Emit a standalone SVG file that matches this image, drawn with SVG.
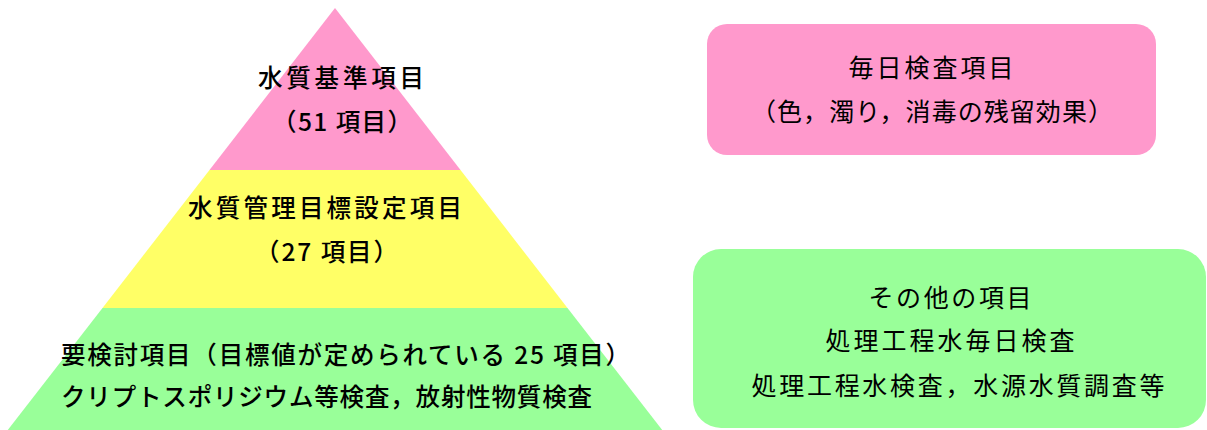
<svg xmlns="http://www.w3.org/2000/svg" width="1207" height="430" viewBox="0 0 1207 430">
<style>
text{font-family:"Noto Sans CJK JP","Noto Sans CJK SC",sans-serif;fill:#000}
.p{font-size:24.5px;font-weight:500}
.b{font-size:25px;font-weight:400}
</style>
<rect width="1207" height="430" fill="#fff"/>
<g id="tier1">
<polygon points="335,8 460.5,170 209.5,170" fill="#FF99CC"/>
<text class="p" x="258" y="87" textLength="166" lengthAdjust="spacing">水質基準項目</text>
<text class="p" x="272" y="130.5" textLength="140" lengthAdjust="spacing">（51 項目）</text>
</g>
<g id="tier2">
<polygon points="209.5,170 460.5,170 567.5,308 102.5,308" fill="#FFFF66"/>
<text class="p" x="188" y="217" textLength="274" lengthAdjust="spacing">水質管理目標設定項目</text>
<text class="p" x="255" y="260.5" textLength="143" lengthAdjust="spacing">（27 項目）</text>
</g>
<g id="tier3">
<polygon points="102.5,308 567.5,308 663,431 7,431" fill="#99FF99"/>
<text class="p" x="61" y="363.5" textLength="569" lengthAdjust="spacing">要検討項目（目標値が定められている 25 項目）</text>
<text class="p" x="61" y="405.5" textLength="531" lengthAdjust="spacing">クリプトスポリジウム等検査，放射性物質検査</text>
</g>
<g id="daily">
<rect x="707" y="24" width="449" height="131" rx="20" fill="#FF99CC"/>
<text class="b" x="848.5" y="77" textLength="165" lengthAdjust="spacing">毎日検査項目</text>
<text class="b" x="751" y="120.5" textLength="362" lengthAdjust="spacing">（色，濁り，消毒の残留効果）</text>
</g>
<g id="other">
<rect x="693" y="249" width="513" height="179" rx="28" fill="#99FF99"/>
<text class="b" x="868.5" y="306.5" textLength="163" lengthAdjust="spacing">その他の項目</text>
<text class="b" x="825.5" y="349.5" textLength="249" lengthAdjust="spacing">処理工程水毎日検査</text>
<text class="b" x="751.5" y="394.5" textLength="413" lengthAdjust="spacing">処理工程水検査，水源水質調査等</text>
</g>
<g id="connectors"/>
</svg>
